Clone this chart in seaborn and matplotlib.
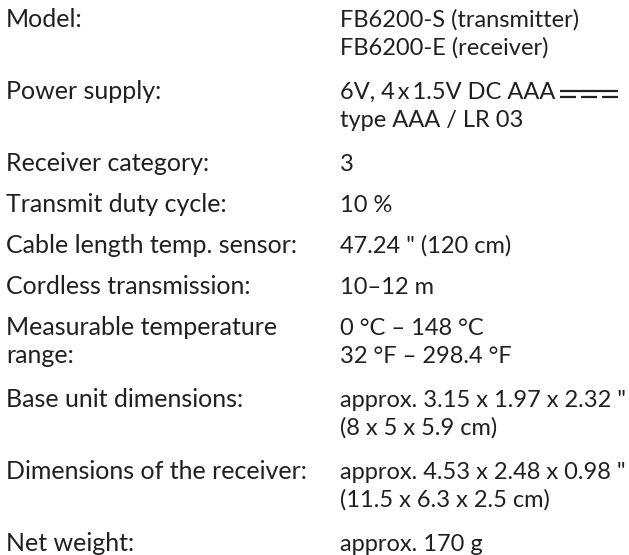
import numpy as np
import seaborn as sns
import matplotlib
matplotlib.use('Agg')
import matplotlib.pyplot as plt

# datos de la tabla
etiquetas = ['Model:', 'Power supply:', 'Receiver category:', 'Transmit duty cycle:',
             'Cable length temp. sensor:', 'Cordless transmission:',
             'Measurable temperature\nrange:', 'Base unit dimensions:',
             'Dimensions of the receiver:', 'Net weight:']
valores = [['FB6200-S (transmitter)', 'FB6200-E (receiver)'],
           ['6V, 4\u2009x\u20091.5V DC AAA', 'type AAA / LR 03'],
           ['3'],
           ['10 %'],
           ['47.24 " (120 cm)'],
           ['10\u201312 m'],
           ['0 \u00b0C \u2013 148 \u00b0C', '32 \u00b0F \u2013 298.4 \u00b0F'],
           ['approx. 3.15 x 1.97 x 2.32 "', '(8 x 5 x 5.9 cm)'],
           ['approx. 4.53 x 2.48 x 0.98 "', '(11.5 x 6.3 x 2.5 cm)'],
           ['approx. 170 g']]

sns.set_theme(style='white')
plt.rcParams['font.family'] = ['Lato', 'DejaVu Sans']
color_texto = '#231f20'

fig = plt.figure(figsize=(6.29, 5.55), dpi=100)
ax = fig.add_axes([0, 0, 1, 1])
ax.set_xlim(0, 629)
ax.set_ylim(555, 0)
ax.axis('off')

x_izq = 6
x_der = 340
paso_linea = 28
tam_izq = 18
tam_der = 17

y = 27
textos_der = []
for etiqueta, vals in zip(etiquetas, valores):
    lineas_izq = etiqueta.split('\n')
    n = max(len(lineas_izq), len(vals))
    for k in range(n):
        yk = y + k * paso_linea
        if k < len(lineas_izq):
            ax.text(x_izq, yk, lineas_izq[k], fontsize=tam_izq, color=color_texto, va='baseline', ha='left')
        if k < len(vals):
            t = ax.text(x_der, yk, vals[k], fontsize=tam_der, color=color_texto, va='baseline', ha='left')
            textos_der.append(t)
    y = y + (n - 1) * paso_linea + (44 if n > 1 else 41)

# simbolo de corriente continua despues de "AAA"
fig.canvas.draw()
t_dc = textos_der[2]
bb = t_dc.get_window_extent().transformed(ax.transData.inverted())
x0 = bb.x1 + 5
ancho = 58
y_base = t_dc.get_position()[1]
ax.plot([x0, x0 + ancho], [y_base - 8.5, y_base - 8.5], color=color_texto, lw=1.6, solid_capstyle='butt')
seg = ancho / 3.6
for i in range(3):
    xs = x0 + i * seg * 1.3
    ax.plot([xs, xs + seg], [y_base - 2, y_base - 2], color=color_texto, lw=1.6, solid_capstyle='butt')

plt.savefig('out.png', dpi=100, facecolor='white')
